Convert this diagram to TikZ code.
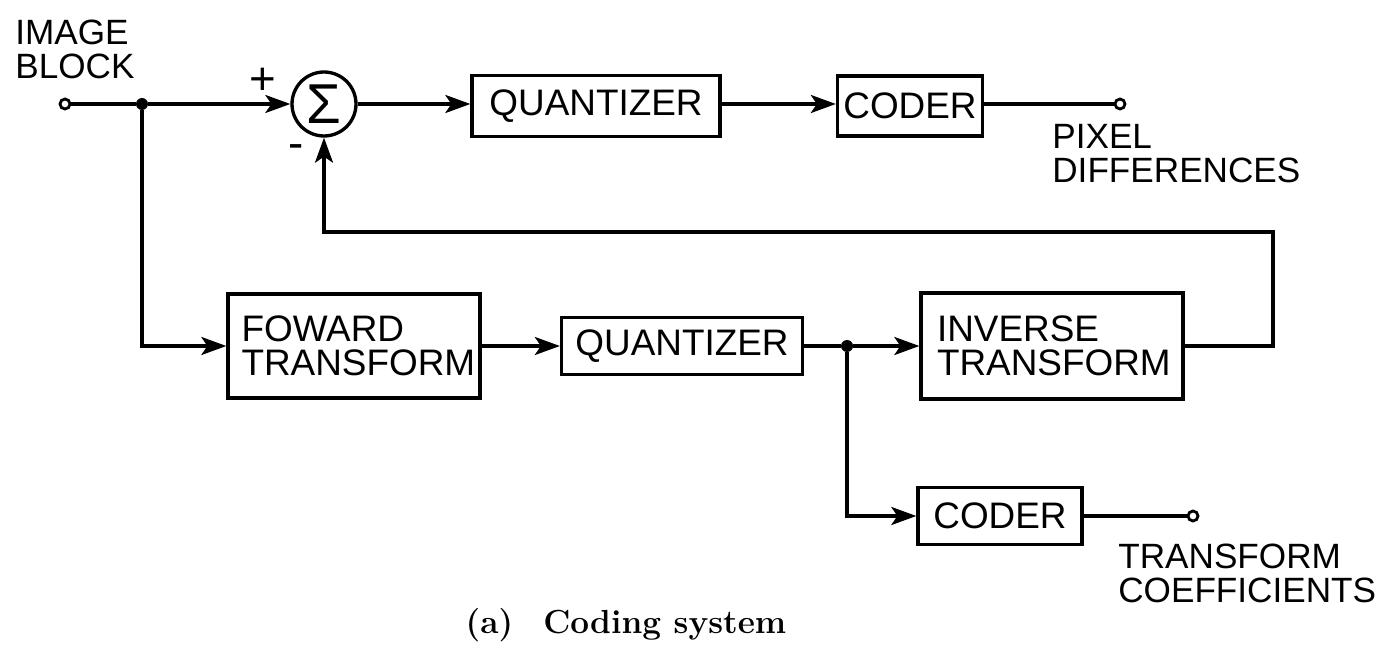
\documentclass[tikz,border=0pt]{standalone}
\usepackage{fontspec}
\usepackage{tikz}
\usetikzlibrary{arrows.meta,positioning,calc}
\setmainfont{Latin Modern Roman}
\newfontfamily\lettering{Liberation Sans}
\tikzset{
  wire/.style={line width=1.8pt},
  arr/.style={-{Stealth[length=5mm,width=3.6mm,inset=1.2mm]}, line width=1.8pt},
  blk/.style={draw, line width=1.9pt, font=\lettering\fontsize{21}{19.3}\selectfont,
              inner sep=0pt},
  sig/.style={draw, circle, line width=1.9pt, minimum size=1.28cm, inner sep=0pt,
              font=\lettering\fontsize{32}{32}\selectfont},
  term/.style={draw, circle, fill=white, line width=1.6pt, minimum size=0.2cm, inner sep=0pt},
  gnode/.style={circle, fill=black, inner sep=0pt, minimum size=0.24cm},
  lab/.style={font=\lettering\fontsize{20}{19.3}\selectfont, align=left, anchor=west, inner sep=0pt},
  sgn/.style={font=\lettering\fontsize{26}{26}\selectfont, inner sep=0pt},
}

\begin{document}
\begin{tikzpicture}[x=0.02cm, y=-0.02cm]
  \useasboundingbox (0,0) rectangle (1385,648);

  % upper path: difference signal
  \node[term] (in) at (65,104) {};
  \node[gnode] (j1) at (142,104) {};
  \node[sig] (sum) at (324,104) {Σ};
  \node[blk, minimum width=4.96cm, minimum height=1.22cm] (q1) at (596,106) {QUANTIZER};
  \node[blk, minimum width=2.9cm, minimum height=1.2cm] (c1) at (910,106) {CODER};
  \node[term] (out1) at (1120,104) {};
  \node[sgn] (plus) at (263,81) {+};
  \node[sgn] (minus) at (296,152) {-};

  % lower path: transform coefficients
  \node[blk, minimum width=5.04cm, minimum height=2.08cm, text width=4.5cm, align=left]
    (fwd) at (354,346) {FOWARD\\TRANSFORM};
  \node[blk, minimum width=4.82cm, minimum height=1.14cm] (q2) at (682,346) {QUANTIZER};
  \node[gnode] (j2) at (847,346) {};
  \node[blk, minimum width=5.24cm, minimum height=2.12cm, text width=4.6cm, align=left]
    (inv) at (1052,346) {INVERSE\\TRANSFORM};
  \node[blk, minimum width=3.28cm, minimum height=1.14cm] (c2) at (1000,516) {CODER};
  \node[term] (out2) at (1193,516) {};
  \coordinate (fbr) at (1273,232);

  % labels
  \node[lab] (inlab) at (15,49) {IMAGE\\BLOCK};
  \node[lab] (pixlab) at (1052,154) {PIXEL\\DIFFERENCES};
  \node[lab] (coeflab) at (1118,573) {TRANSFORM\\COEFFICIENTS};
  \node[font=\fontsize{19}{22}\selectfont\bfseries] (cap) at (626,625)
    {(a)\hspace{0.9em}Coding system};

  % connections
  \draw[wire] (in) -- (j1);
  \draw[arr] (j1) -- (sum);
  \draw[arr] (sum) -- (sum -| q1.west);
  \draw[arr] (q1.east |- sum) -- (sum -| c1.west);
  \draw[wire] (c1.east |- sum) -- (out1);
  \draw[arr] (j1) |- (fwd);
  \draw[arr] (fwd) -- (q2);
  \draw[wire] (q2) -- (j2);
  \draw[arr] (j2) -- (inv);
  \draw[arr] (j2) |- (c2);
  \draw[wire] (c2) -- (out2);
  \draw[arr] (inv) -| (fbr) -| (sum);
\end{tikzpicture}
\end{document}
